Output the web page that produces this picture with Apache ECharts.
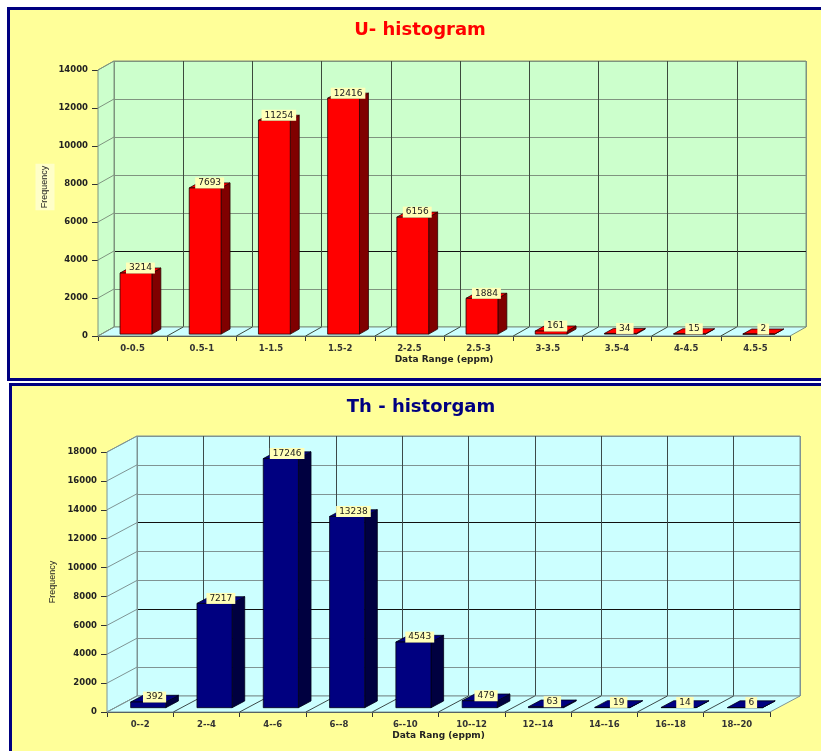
<!DOCTYPE html>
<html>
<head>
<meta charset="utf-8">
<script src="https://cdn.jsdelivr.net/npm/echarts@6/dist/echarts.min.js"></script>
<style>
html, body { margin: 0; padding: 0; background: #fff; overflow: hidden; }
.panel { position: absolute; box-sizing: border-box; border: 3px solid #000080; background: #ffff99; }
#panelU { left: 7px; top: 7px; width: 830px; height: 374px; }
#panelTh { left: 9px; top: 383px; width: 830px; height: 380px; }
#main { position: absolute; left: 0; top: 0; width: 821px; height: 751px; }
</style>
</head>
<body>
<div class="panel" id="panelU"></div>
<div class="panel" id="panelTh"></div>
<div id="main"></div>
<script>
// U histogram
var uCategories = ['0-0.5', '0.5-1', '1-1.5', '1.5-2', '2-2.5', '2.5-3', '3-3.5', '3.5-4', '4-4.5', '4.5-5'];
var uValues = [3214, 7693, 11254, 12416, 6156, 1884, 161, 34, 15, 2];
var uTicks = [0, 2000, 4000, 6000, 8000, 10000, 12000, 14000];

// Th histogram
var thCategories = ['0--2', '2--4', '4--6', '6--8', '6--10', '10--12', '12--14', '14--16', '16--18', '18--20'];
var thValues = [392, 7217, 17246, 13238, 4543, 479, 63, 19, 14, 6];
var thTicks = [0, 2000, 4000, 6000, 8000, 10000, 12000, 14000, 16000, 18000];

// layout / look of the two pseudo-3d panels
var uPanel = {
  left: 98, top: 70, width: 692, height: 266,
  dx: 16, dy: 9,
  barW: 0.46, barStart: 0.21, barDepth: 0.56,
  wall: '#ccffcc', floor: '#ccffff',
  hLine: '#7f947f', vLine: '#3c4a3c',
  front: '#ff0000', side: '#800000', edge: '#2a0000',
  darkLines: [4000],
  xName: 'Data Range (eppm)'
};
var thPanel = {
  left: 107, top: 452, width: 663, height: 260,
  dx: 30, dy: 16,
  barW: 0.53, barStart: 0.27, barDepth: 0.42,
  wall: '#ccffff', floor: '#ccffff',
  hLine: '#7f9494', vLine: '#3c4a4a',
  front: '#000080', side: '#000040', edge: '#000018',
  darkLines: [6000, 12000],
  xName: 'Data Rang (eppm)'
};

var labelFont = { fontFamily: 'DejaVu Sans', fontWeight: 'bold', fontSize: 8.5, color: '#333' };

// side wall + floor, drawn from the front axes and shifted back by the depth
function wallRenderer(panel, ticks, count) {
  return function (params, api) {
    var half = api.size([1, 0])[0] / 2;
    var x0 = api.coord([0, 0])[0] - half;
    var y0 = api.coord([0, 0])[1];
    var x1 = api.coord([count - 1, 0])[0] + half;
    var yTop = api.coord([0, ticks[ticks.length - 1]])[1];
    var dx = panel.dx, dy = panel.dy;
    var kids = [];
    kids.push({
      type: 'polygon',
      shape: { points: [[x0, y0], [x0, yTop], [x0 + dx, yTop - dy], [x0 + dx, y0 - dy]] },
      style: { fill: panel.wall, stroke: panel.hLine, lineWidth: 1 }
    });
    kids.push({
      type: 'polygon',
      shape: { points: [[x0, y0], [x1, y0], [x1 + dx, y0 - dy], [x0 + dx, y0 - dy]] },
      style: { fill: panel.floor, stroke: panel.hLine, lineWidth: 1 }
    });
    ticks.forEach(function (t) {
      var y = api.coord([0, t])[1];
      kids.push({
        type: 'line',
        shape: { x1: x0, y1: y, x2: x0 + dx, y2: y - dy },
        style: { stroke: panel.hLine, lineWidth: 1 }
      });
    });
    for (var i = 1; i < count; i++) {
      var x = api.coord([i, 0])[0] - half;
      kids.push({
        type: 'line',
        shape: { x1: x, y1: y0, x2: x + dx, y2: y0 - dy },
        style: { stroke: panel.vLine, lineWidth: 1 }
      });
    }
    return { type: 'group', children: kids };
  };
}

// one 3d bar with its value box
function barRenderer(panel) {
  return function (params, api) {
    var band = api.size([1, 0])[0];
    var val = api.value(1);
    var top = api.coord([api.value(0), val]);
    var base = api.coord([api.value(0), 0]);
    var w = band * panel.barW;
    var sx = panel.dx * panel.barStart, sy = panel.dy * panel.barStart;
    var bx = panel.dx * panel.barDepth, by = panel.dy * panel.barDepth;
    var xl = top[0] - w / 2 + sx, xr = xl + w;
    var yt = top[1] - sy, yb = base[1] - sy;
    var edge = { stroke: panel.edge, lineWidth: 0.8 };
    return {
      type: 'group',
      children: [
        { type: 'polygon', shape: { points: [[xr, yt], [xr + bx, yt - by], [xr + bx, yb - by], [xr, yb]] },
          style: Object.assign({ fill: panel.side }, edge) },
        { type: 'polygon', shape: { points: [[xl, yt], [xl + bx, yt - by], [xr + bx, yt - by], [xr, yt]] },
          style: Object.assign({ fill: panel.front }, edge) },
        { type: 'rect', shape: { x: xl, y: yt, width: w, height: yb - yt },
          style: Object.assign({ fill: panel.front }, edge) },
        { type: 'text', x: xl + (w + bx) / 2, y: yt + 0.5,
          style: { text: String(val), fontFamily: 'DejaVu Sans', fontSize: 9, fill: '#1a1a1a',
                   align: 'center', verticalAlign: 'bottom', lineHeight: 11,
                   backgroundColor: '#ffffb8', padding: [0, 3, 0, 3] } }
      ]
    };
  };
}

function gridsFor(panel) {
  return [
    { left: panel.left, top: panel.top, width: panel.width, height: panel.height },
    { left: panel.left + panel.dx, top: panel.top - panel.dy, width: panel.width, height: panel.height,
      show: true, backgroundColor: panel.wall, borderColor: panel.hLine, borderWidth: 1 }
  ];
}

function xAxesFor(panel, cats, gi) {
  // outer edges of the back wall are light, inner category lines dark
  var vColors = [panel.hLine];
  for (var i = 1; i < cats.length; i++) vColors.push(panel.vLine);
  vColors.push(panel.hLine);
  return [
    { type: 'category', gridIndex: gi, data: cats,
      axisLine: { lineStyle: { color: '#333', width: 1 } },
      axisTick: { show: true, length: 5, lineStyle: { color: '#333' } },
      axisLabel: Object.assign({ interval: 0, margin: 8 }, labelFont),
      splitLine: { show: false },
      name: panel.xName, nameLocation: 'middle', nameGap: 19,
      nameTextStyle: { fontFamily: 'DejaVu Sans', fontWeight: 'bold', fontSize: 9, color: '#222' } },
    { type: 'category', gridIndex: gi + 1, data: cats,
      axisLine: { show: false }, axisTick: { show: false }, axisLabel: { show: false },
      splitLine: { show: true, interval: 0, lineStyle: { color: vColors, width: 1 } } }
  ];
}

function yAxesFor(panel, ticks, gi) {
  var max = ticks[ticks.length - 1], step = ticks[1] - ticks[0];
  var lineColors = ticks.map(function (t) { return panel.darkLines.indexOf(t) >= 0 ? '#111' : panel.hLine; });
  return [
    { type: 'value', gridIndex: gi, min: 0, max: max, interval: step,
      axisLine: { show: true, lineStyle: { color: '#111', width: 1 } },
      axisTick: { show: true, length: 6, lineStyle: { color: '#333' } },
      axisLabel: Object.assign({ margin: 10, formatter: function (v) { return String(v); } },
                               labelFont, { color: '#222' }),
      splitLine: { show: false } },
    { type: 'value', gridIndex: gi + 1, min: 0, max: max, interval: step,
      axisLine: { show: false }, axisTick: { show: false }, axisLabel: { show: false },
      splitLine: { show: true, lineStyle: { color: lineColors, width: 1 } } }
  ];
}

var chart = echarts.init(document.getElementById('main'), null, { renderer: 'canvas' });

var option = {
  animation: false,
  grid: gridsFor(uPanel).concat(gridsFor(thPanel)),
  xAxis: xAxesFor(uPanel, uCategories, 0).concat(xAxesFor(thPanel, thCategories, 2)),
  yAxis: yAxesFor(uPanel, uTicks, 0).concat(yAxesFor(thPanel, thTicks, 2)),
  graphic: [
    { type: 'text', x: 420, y: 30,
      style: { text: 'U- histogram', fill: '#ff0000', fontFamily: 'DejaVu Sans', fontWeight: 'bold', fontSize: 18,
               align: 'center', verticalAlign: 'middle' } },
    { type: 'text', x: 421, y: 407,
      style: { text: 'Th - historgam', fill: '#000080', fontFamily: 'DejaVu Sans', fontWeight: 'bold', fontSize: 18,
               align: 'center', verticalAlign: 'middle' } },
    { type: 'text', x: 45, y: 187, rotation: Math.PI / 2,
      style: { text: 'Frequency', fill: '#222', fontFamily: 'Liberation Sans', fontSize: 9,
               align: 'center', verticalAlign: 'middle', backgroundColor: '#ffffc8', padding: [5, 2] } },
    { type: 'text', x: 53, y: 582, rotation: Math.PI / 2,
      style: { text: 'Frequency', fill: '#222', fontFamily: 'Liberation Sans', fontSize: 9,
               align: 'center', verticalAlign: 'middle' } }
  ],
  series: [
    { type: 'custom', xAxisIndex: 0, yAxisIndex: 0, silent: true, z: 1,
      renderItem: wallRenderer(uPanel, uTicks, uCategories.length), data: [[0, 0]] },
    { type: 'custom', name: 'U', xAxisIndex: 0, yAxisIndex: 0, silent: true, z: 3,
      renderItem: barRenderer(uPanel),
      data: uValues.map(function (v, i) { return [i, v]; }) },
    { type: 'custom', xAxisIndex: 2, yAxisIndex: 2, silent: true, z: 1,
      renderItem: wallRenderer(thPanel, thTicks, thCategories.length), data: [[0, 0]] },
    { type: 'custom', name: 'Th', xAxisIndex: 2, yAxisIndex: 2, silent: true, z: 3,
      renderItem: barRenderer(thPanel),
      data: thValues.map(function (v, i) { return [i, v]; }) }
  ]
};

chart.setOption(option);
</script>
</body>
</html>
